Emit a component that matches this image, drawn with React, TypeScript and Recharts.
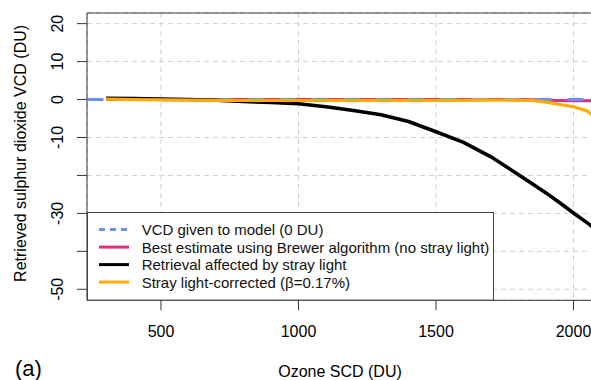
import React from 'react';
import {
  LineChart,
  Line,
  XAxis,
  YAxis,
  CartesianGrid,
  ReferenceArea,
  Label,
} from 'recharts';

// Ozone slant column (DU) at which the retrievals were evaluated
const ozoneScd = [
  300, 400, 500, 600, 700, 800, 900, 1000, 1100, 1200, 1300, 1400, 1500,
  1600, 1700, 1800, 1850, 1900, 1950, 2000, 2050, 2100,
];
// Retrieved SO2 VCD (DU) for each case
const bestEstimate = [
  0, 0, 0, 0, 0, 0, 0, 0, 0, 0, 0, 0, 0, 0, 0, 0, -0.05, -0.2, -0.25, -0.3,
  -0.3, -0.35,
];
const strayAffected = [
  0.3, 0.25, 0.1, 0, -0.2, -0.5, -0.8, -1.1, -1.9, -2.9, -4.0, -5.8, -8.5,
  -11.3, -15.1, -19.8, -22.2, -24.6, -27.2, -29.9, -32.5, -35.2,
];
const strayCorrected = [
  0.1, 0.0, -0.1, -0.15, -0.2, -0.25, -0.25, -0.25, -0.25, -0.25, -0.25,
  -0.25, -0.25, -0.2, -0.15, -0.2, -0.25, -0.7, -1.3, -1.9, -3.0, -6.0,
];
// The VCD given to the model is constant over the whole ozone range
const modelOzone = [0, 2500];
const modelVcd = [0, 0];

const xTicks = [500, 1000, 1500, 2000];
const yTicks = [20, 10, 0, -10, -20, -30, -40, -50];
const yLabelled = [20, 10, 0, -10, -30, -50];
const xDomain = [231, 2100];
const yDomain = [-52.9, 22.8];

const BLUE = '#6b8ff2';
const MAGENTA = '#dc2e7e';
const BLACK = '#000000';
const ORANGE = '#ffab00';
const FONT = '"Liberation Sans", Arial, Helvetica, sans-serif';

const legendItems = [
  { label: 'VCD given to model (0 DU)', color: BLUE, dash: '6 5' },
  { label: 'Best estimate using Brewer algorithm (no stray light)', color: MAGENTA },
  { label: 'Retrieval affected by stray light', color: BLACK },
  { label: 'Stray light-corrected (\u03b2=0.17%)', color: ORANGE },
];

const rows = ozoneScd.map((o, i) => ({
  ozone: o,
  best: bestEstimate[i],
  stray: strayAffected[i],
  corrected: strayCorrected[i],
}));
const modelRows = modelOzone.map((o, i) => ({ ozone: o, model: modelVcd[i] }));

const YTick = (props: any) => {
  const { x, y, payload } = props;
  if (!yLabelled.includes(payload.value)) return <g />;
  return (
    <text
      x={x}
      y={y}
      transform={`rotate(-90 ${x} ${y})`}
      textAnchor="middle"
      dominantBaseline="central"
      fontFamily={FONT}
      fontSize={16}
      fill="#000"
    >
      {payload.value}
    </text>
  );
};

const XTick = (props: any) => {
  const { x, y, payload } = props;
  return (
    <text
      x={x}
      y={y}
      textAnchor="middle"
      dominantBaseline="central"
      fontFamily={FONT}
      fontSize={16}
      fill="#000"
    >
      {payload.value}
    </text>
  );
};

const LegendBox = () => {
  const w = 407;
  const h = 88.6;
  return (
    <svg width={w} height={h} style={{ display: 'block' }}>
      <rect x={0.5} y={0.5} width={w - 1} height={h - 1} fill="#fff" stroke="#444" strokeWidth={1} />
      {legendItems.map((it, i) => {
        const cy = 17.6 + i * 17.5;
        return (
          <g key={it.label}>
            <line
              x1={12}
              x2={42}
              y1={cy}
              y2={cy}
              stroke={it.color}
              strokeWidth={3}
              strokeDasharray={it.dash}
            />
            <text
              x={54.7}
              y={cy}
              dominantBaseline="central"
              fontFamily={FONT}
              fontSize={15}
              fill="#111"
            >
              {it.label}
            </text>
          </g>
        );
      })}
    </svg>
  );
};

export default function App() {
  return (
    <div
      style={{
        position: 'fixed',
        left: 0,
        top: 0,
        width: 591,
        height: 380,
        overflow: 'hidden',
        background: '#fff',
      }}
    >
      <LineChart
        width={640}
        height={380}
        margin={{ top: 13, right: 39, bottom: 0, left: 0 }}
      >
        <CartesianGrid stroke="#cfcfcf" strokeDasharray="5 4" strokeWidth={1} />
        <XAxis
          dataKey="ozone"
          type="number"
          domain={xDomain}
          ticks={xTicks}
          allowDataOverflow
          height={79.7}
          axisLine={false}
          tickSize={10}
          tickMargin={21.4}
          tickLine={{ stroke: '#333', strokeWidth: 1 }}
          tick={<XTick />}
        >
          <Label
            content={() => (
              <g>
                <text
                  x={340}
                  y={371}
                  textAnchor="middle"
                  dominantBaseline="central"
                  fontFamily={FONT}
                  fontSize={16}
                  fill="#000"
                >
                  Ozone SCD (DU)
                </text>
                <text
                  x={15}
                  y={368}
                  dominantBaseline="central"
                  fontFamily={FONT}
                  fontSize={22}
                  fill="#000"
                >
                  (a)
                </text>
              </g>
            )}
          />
        </XAxis>
        <YAxis
          type="number"
          domain={yDomain}
          ticks={yTicks}
          allowDataOverflow
          width={87}
          axisLine={false}
          tickSize={10}
          tickMargin={19}
          tickLine={{ stroke: '#333', strokeWidth: 1 }}
          tick={<YTick />}
        >
          <Label
            content={() => (
              <text
                x={21}
                y={153.4}
                transform="rotate(-90 21 153.4)"
                textAnchor="middle"
                dominantBaseline="central"
                fontFamily={FONT}
                fontSize={16}
                fill="#000"
              >
                Retrieved sulphur dioxide VCD (DU)
              </text>
            )}
          />
        </YAxis>
        <Line
          data={rows}
          dataKey="best"
          stroke={MAGENTA}
          strokeWidth={3}
          dot={false}
          isAnimationActive={false}
        />
        <Line
          data={modelRows}
          dataKey="model"
          stroke={BLUE}
          strokeWidth={3}
          strokeDasharray="16 16"
          dot={false}
          isAnimationActive={false}
        />
        <Line
          data={rows}
          dataKey="stray"
          stroke={BLACK}
          strokeWidth={3.6}
          dot={false}
          isAnimationActive={false}
        />
        <Line
          data={rows}
          dataKey="corrected"
          stroke={ORANGE}
          strokeWidth={3.2}
          dot={false}
          isAnimationActive={false}
        />
        <ReferenceArea
          x1={xDomain[0]}
          x2={xDomain[1]}
          y1={yDomain[0]}
          y2={yDomain[1]}
          fill="none"
          stroke="#333"
          strokeWidth={1}
          ifOverflow="visible"
        />
      </LineChart>
      <div style={{ position: 'absolute', left: 87, top: 211.7 }}>
        <LegendBox />
      </div>
    </div>
  );
}
